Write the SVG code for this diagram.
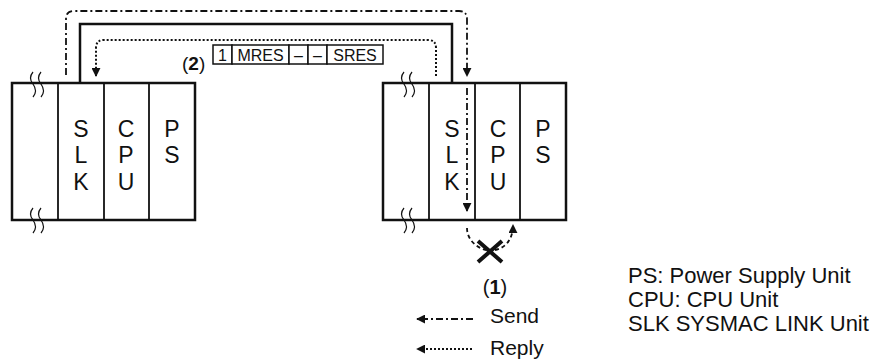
<svg xmlns="http://www.w3.org/2000/svg" width="879" height="363" viewBox="0 0 879 363">
<style>
text{font-family:"Liberation Sans",Arial,sans-serif;fill:#111}
.rack{fill:#fff;stroke:#111;stroke-width:2.5}
.div{stroke:#111;stroke-width:1.8}
.sq{fill:none;stroke:#111;stroke-width:1.2}
.let{font-size:23px;text-anchor:middle}
.send{fill:none;stroke:#111;stroke-width:1.8;stroke-dasharray:7,3,2,3}
.reply{fill:none;stroke:#111;stroke-width:2;stroke-dasharray:2,2}
.solid{fill:none;stroke:#111;stroke-width:2.5}
.cell{fill:#fff;stroke:#111;stroke-width:1.5}
.ct{font-size:16px;text-anchor:middle}
.lg{font-size:21px}
.lg2{font-size:22px}
</style>
<defs>
<marker id="ah" viewBox="0 0 10 10" refX="9" refY="5" markerWidth="9" markerHeight="9" markerUnits="userSpaceOnUse" orient="auto">
<path d="M0,0 L10,5 L0,10 z" fill="#111"/>
</marker>
</defs>

<g id="left-rack">
<rect class="rack" x="12" y="83" width="183" height="137"/>
<line class="div" x1="58" y1="83" x2="58" y2="220"/>
<line class="div" x1="104" y1="83" x2="104" y2="220"/>
<line class="div" x1="149" y1="83" x2="149" y2="220"/>
<path class="sq" d="M33,72 q-5,6 0,12 q5,7 0,13 M41,72 q-5,6 0,12 q5,7 0,13"/>
<path class="sq" d="M33,208 q-5,6 0,12 q5,7 0,13 M41,208 q-5,6 0,12 q5,7 0,13"/>
<text class="let" x="81" y="137">S</text>
<text class="let" x="81" y="163">L</text>
<text class="let" x="81" y="190">K</text>
<text class="let" x="126" y="137">C</text>
<text class="let" x="126" y="163">P</text>
<text class="let" x="126" y="190">U</text>
<text class="let" x="172" y="137">P</text>
<text class="let" x="172" y="163">S</text>
</g>

<g id="right-rack">
<rect class="rack" x="383" y="83" width="183" height="137"/>
<line class="div" x1="429" y1="83" x2="429" y2="220"/>
<line class="div" x1="475" y1="83" x2="475" y2="220"/>
<line class="div" x1="520" y1="83" x2="520" y2="220"/>
<path class="sq" d="M404,72 q-5,6 0,12 q5,7 0,13 M412,72 q-5,6 0,12 q5,7 0,13"/>
<path class="sq" d="M404,208 q-5,6 0,12 q5,7 0,13 M412,208 q-5,6 0,12 q5,7 0,13"/>
<text class="let" x="452" y="137">S</text>
<text class="let" x="452" y="163">L</text>
<text class="let" x="452" y="190">K</text>
<text class="let" x="498" y="137">C</text>
<text class="let" x="498" y="163">P</text>
<text class="let" x="498" y="190">U</text>
<text class="let" x="543" y="137">P</text>
<text class="let" x="543" y="163">S</text>
</g>

<g id="message">
<rect class="cell" x="213" y="45" width="19" height="19"/>
<rect class="cell" x="232" y="45" width="57" height="19"/>
<rect class="cell" x="289" y="45" width="19" height="19"/>
<rect class="cell" x="308" y="45" width="19" height="19"/>
<rect class="cell" x="327" y="45" width="56" height="19"/>
<text class="ct" x="222.5" y="60.5">1</text>
<text class="ct" x="260.5" y="60.5">MRES</text>
<text class="ct" x="298.5" y="60.5">–</text>
<text class="ct" x="317.5" y="60.5">–</text>
<text class="ct" x="355" y="60.5">SRES</text>
<text x="182" y="70" style="font-size:19px">(<tspan font-weight="bold">2</tspan>)</text>
</g>

<g id="connectors">
<path class="solid" d="M80,83 V24 H452 V83"/>
<path class="send" d="M66,75 V19 Q66,11 74,11 H459 Q467,11 467,19 V76" marker-end="url(#ah)"/>
<path class="send" d="M467,88 V211" marker-end="url(#ah)"/>
<path class="reply" d="M436,76 V48 Q436,40 428,40 H104 Q96,40 96,48 V76" marker-end="url(#ah)"/>
<path class="send" style="stroke-dasharray:4,3" d="M467,228 C467,240 477,248 486,250"/>
<path class="send" style="stroke-dasharray:4,3" d="M495,250 C505,248 513,240 513,225" marker-end="url(#ah)"/>
</g>

<g id="failure">
<path d="M478,241 L502,262 M502,241 L478,262" stroke="#111" stroke-width="4" fill="none"/>
<text x="495" y="294" style="font-size:20px" text-anchor="middle">(<tspan font-weight="bold">1</tspan>)</text>
</g>

<g id="legend">
<path class="send" d="M473,319 H417" marker-end="url(#ah)"/>
<text class="lg" x="490" y="323">Send</text>
<path class="reply" d="M472,349 H417" marker-end="url(#ah)"/>
<text class="lg" x="490" y="355">Reply</text>
<text class="lg2" x="628" y="283">PS: Power Supply Unit</text>
<text class="lg2" x="628" y="307">CPU: CPU Unit</text>
<text class="lg2" x="628" y="331">SLK SYSMAC LINK Unit</text>
</g>
</svg>
